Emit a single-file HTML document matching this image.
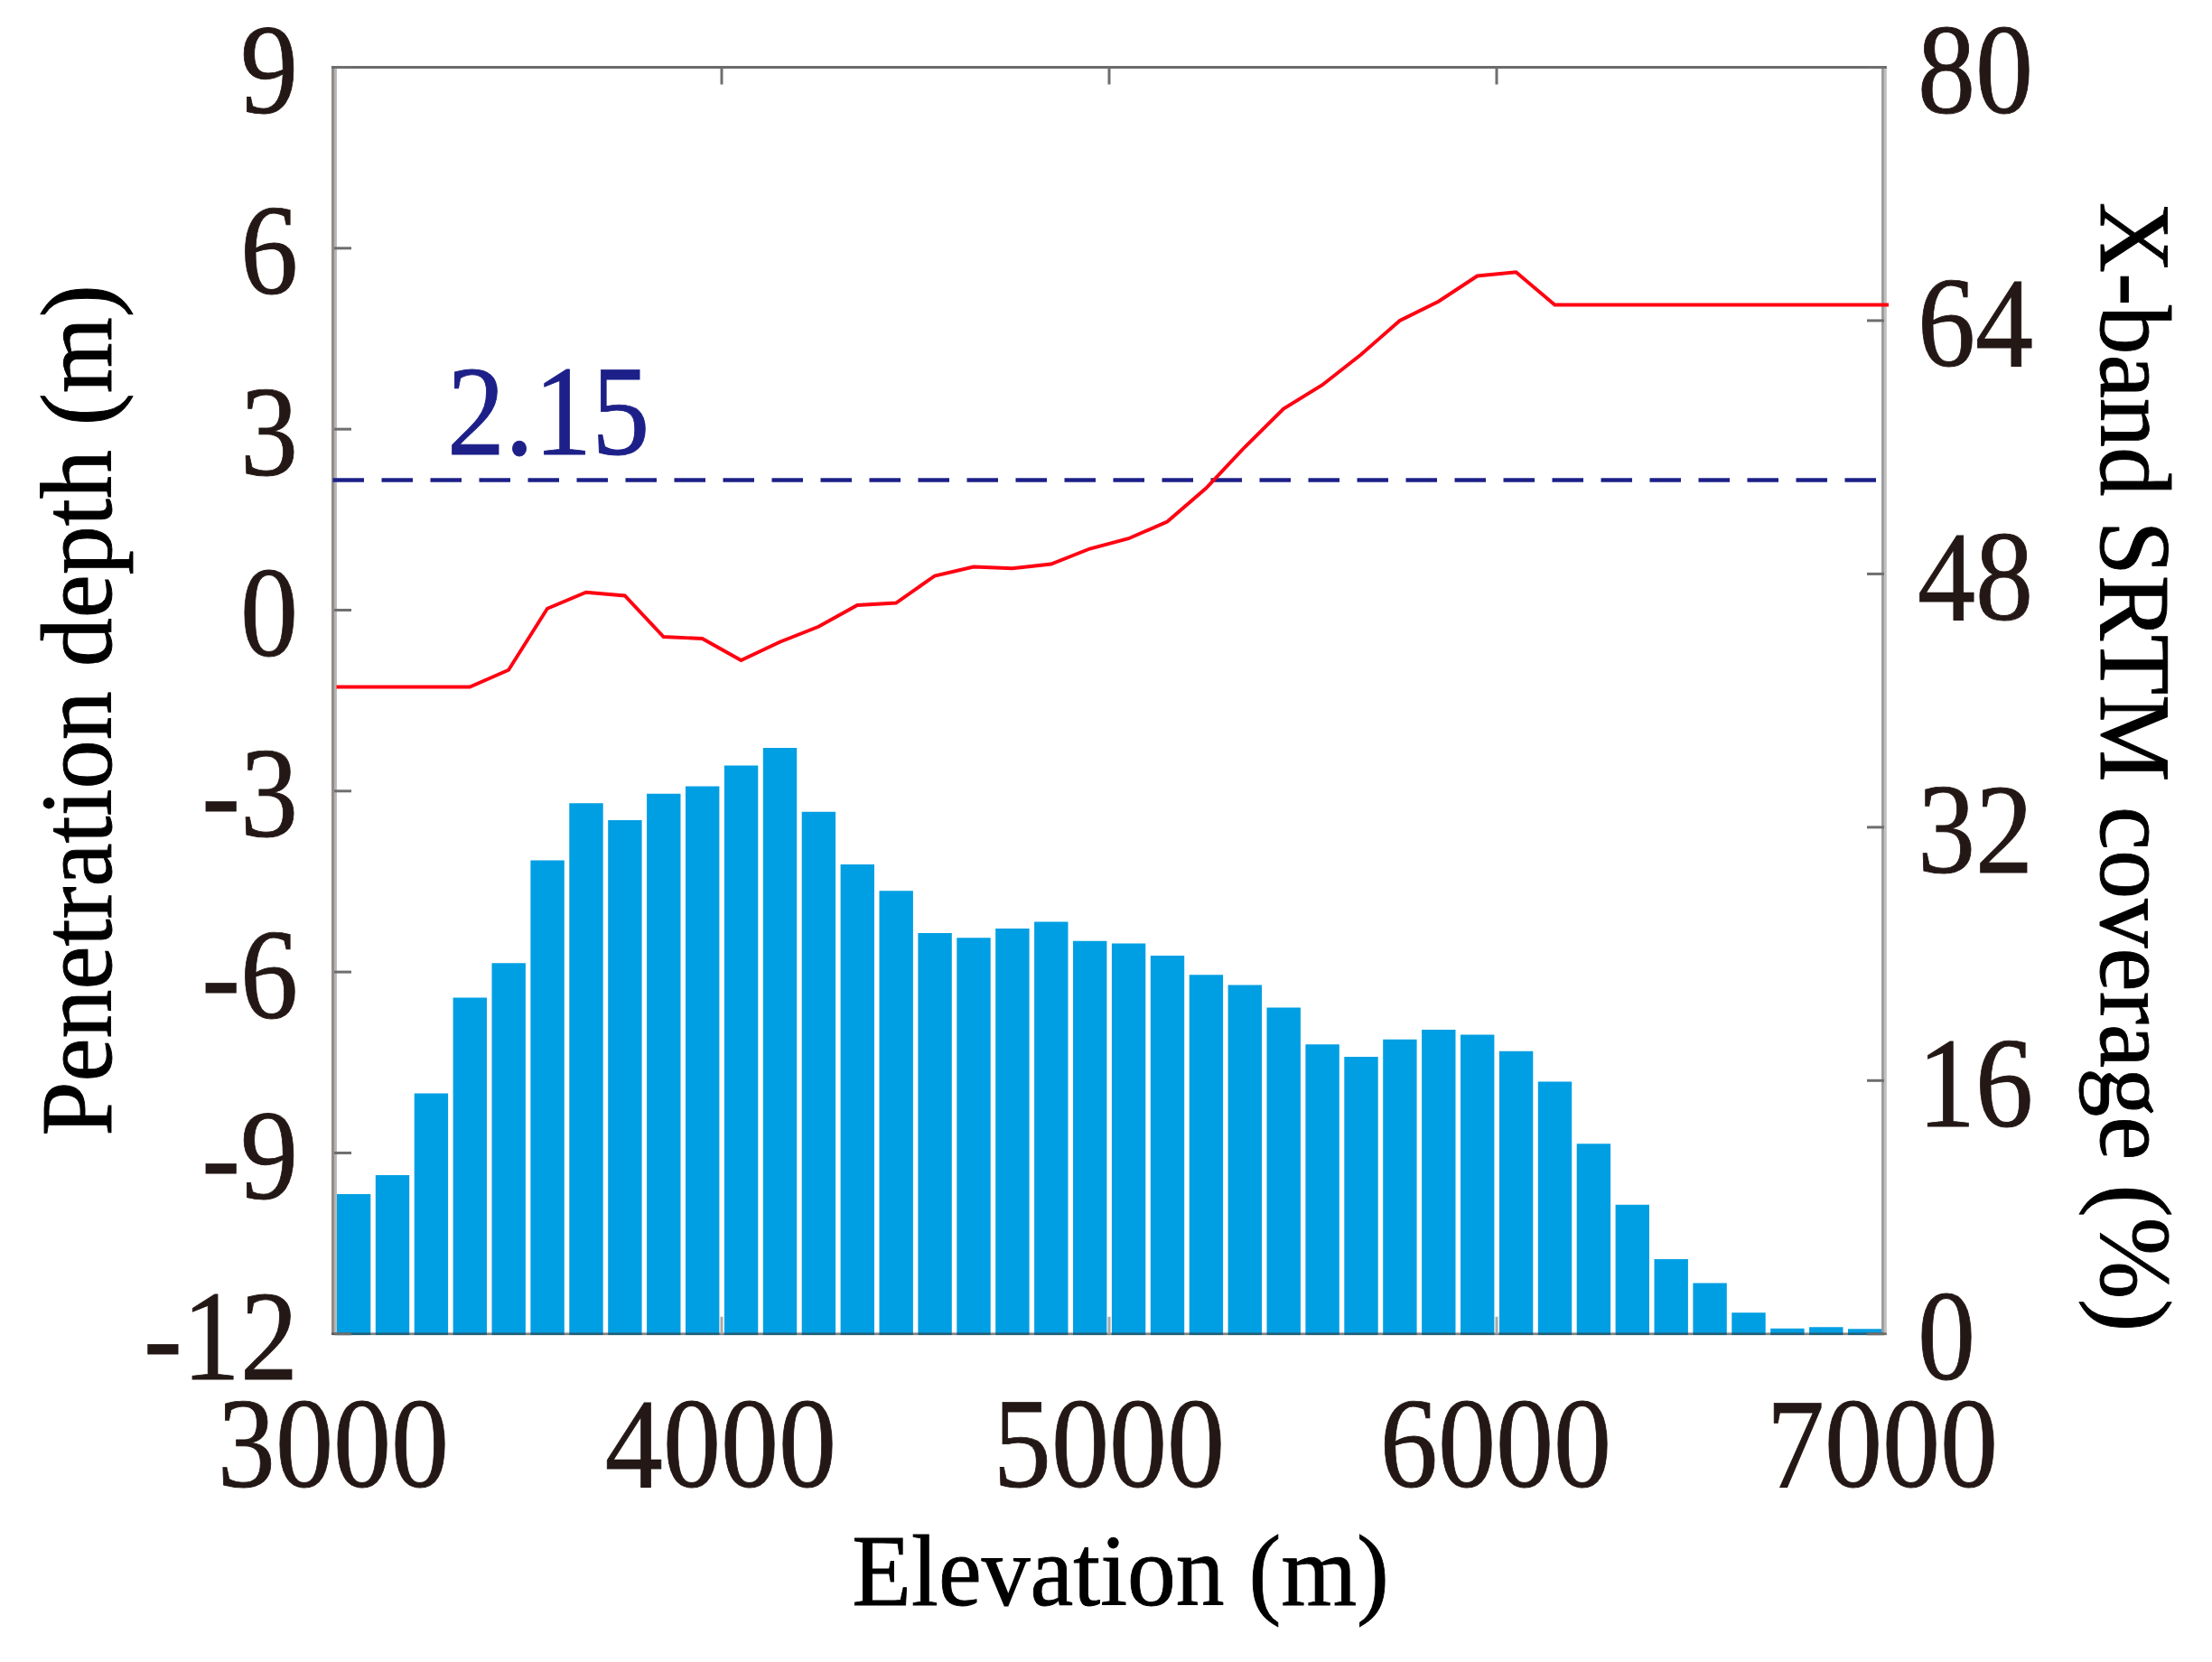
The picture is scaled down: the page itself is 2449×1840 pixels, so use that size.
<!DOCTYPE html>
<html lang="en"><head><meta charset="utf-8"><title>Penetration depth vs elevation</title>
<style>html,body{margin:0;padding:0;background:#fff}body{width:2449px;height:1840px;overflow:hidden}svg{display:block}text{font-family:"Liberation Serif",serif}</style>
</head><body>
<svg width="2449" height="1840" viewBox="0 0 2449 1840">
<rect width="2449" height="1840" fill="#fff"/>
<g fill="#009fe3">
<rect x="372.90" y="1322.00" width="37.40" height="156.05"/>
<rect x="415.80" y="1301.00" width="37.40" height="177.05"/>
<rect x="458.70" y="1210.50" width="37.40" height="267.55"/>
<rect x="501.60" y="1104.50" width="37.40" height="373.55"/>
<rect x="544.50" y="1066.25" width="37.40" height="411.80"/>
<rect x="587.40" y="952.50" width="37.40" height="525.55"/>
<rect x="630.30" y="889.25" width="37.40" height="588.80"/>
<rect x="673.20" y="908.00" width="37.40" height="570.05"/>
<rect x="716.10" y="878.75" width="37.40" height="599.30"/>
<rect x="759.00" y="870.50" width="37.40" height="607.55"/>
<rect x="801.90" y="847.50" width="37.40" height="630.55"/>
<rect x="844.80" y="828.00" width="37.40" height="650.05"/>
<rect x="887.70" y="898.75" width="37.40" height="579.30"/>
<rect x="930.60" y="957.00" width="37.40" height="521.05"/>
<rect x="973.50" y="986.25" width="37.40" height="491.80"/>
<rect x="1016.40" y="1033.00" width="37.40" height="445.05"/>
<rect x="1059.30" y="1038.25" width="37.40" height="439.80"/>
<rect x="1102.20" y="1028.00" width="37.40" height="450.05"/>
<rect x="1145.10" y="1020.50" width="37.40" height="457.55"/>
<rect x="1188.00" y="1041.75" width="37.40" height="436.30"/>
<rect x="1230.90" y="1044.50" width="37.40" height="433.55"/>
<rect x="1273.80" y="1058.00" width="37.40" height="420.05"/>
<rect x="1316.70" y="1079.25" width="37.40" height="398.80"/>
<rect x="1359.60" y="1090.50" width="37.40" height="387.55"/>
<rect x="1402.50" y="1115.50" width="37.40" height="362.55"/>
<rect x="1445.40" y="1156.25" width="37.40" height="321.80"/>
<rect x="1488.30" y="1170.00" width="37.40" height="308.05"/>
<rect x="1531.20" y="1150.75" width="37.40" height="327.30"/>
<rect x="1574.10" y="1140.00" width="37.40" height="338.05"/>
<rect x="1617.00" y="1145.50" width="37.40" height="332.55"/>
<rect x="1659.90" y="1163.75" width="37.40" height="314.30"/>
<rect x="1702.80" y="1197.50" width="37.40" height="280.55"/>
<rect x="1745.70" y="1266.25" width="37.40" height="211.80"/>
<rect x="1788.60" y="1333.75" width="37.40" height="144.30"/>
<rect x="1831.50" y="1394.00" width="37.40" height="84.05"/>
<rect x="1874.40" y="1420.50" width="37.40" height="57.55"/>
<rect x="1917.30" y="1453.25" width="37.40" height="24.80"/>
<rect x="1960.20" y="1470.75" width="37.40" height="7.30"/>
<rect x="2003.10" y="1469.25" width="37.40" height="8.80"/>
<rect x="2046.00" y="1471.25" width="37.40" height="6.80"/>
</g>
<g fill="none">
<rect x="367" y="73" width="3" height="1405" fill="#8f8c8a"/><rect x="370" y="73" width="2.9" height="1405" fill="#b7b5b2"/>
<rect x="2083.1" y="73" width="2.8" height="1405" fill="#979797"/><rect x="2085.9" y="73" width="2.9" height="1405" fill="#c0c0c0"/>
<rect x="367" y="73" width="1721.8" height="3" fill="#6a6a6a"/>
<rect x="367" y="1475.4" width="1721.8" height="2.7" fill="#3a3a3a" fill-opacity="0.62"/>
</g>
<g stroke="#6e6e6e" stroke-width="3">
<line x1="370" y1="74.50" x2="389" y2="74.50"/>
<line x1="370" y1="274.82" x2="389" y2="274.82"/>
<line x1="370" y1="475.14" x2="389" y2="475.14"/>
<line x1="370" y1="675.46" x2="389" y2="675.46"/>
<line x1="370" y1="875.79" x2="389" y2="875.79"/>
<line x1="370" y1="1076.11" x2="389" y2="1076.11"/>
<line x1="370" y1="1276.43" x2="389" y2="1276.43"/>
<line x1="370" y1="1476.75" x2="389" y2="1476.75"/>
<line x1="2067" y1="74.50" x2="2086" y2="74.50"/>
<line x1="2067" y1="354.95" x2="2086" y2="354.95"/>
<line x1="2067" y1="635.40" x2="2086" y2="635.40"/>
<line x1="2067" y1="915.85" x2="2086" y2="915.85"/>
<line x1="2067" y1="1196.30" x2="2086" y2="1196.30"/>
<line x1="2067" y1="1476.75" x2="2086" y2="1476.75"/>
<line x1="799.00" y1="74.5" x2="799.00" y2="93.5"/>
<line x1="799.00" y1="1476.75" x2="799.00" y2="1457.75" stroke="#a9a9a9"/>
<line x1="1228.00" y1="74.5" x2="1228.00" y2="93.5"/>
<line x1="1228.00" y1="1476.75" x2="1228.00" y2="1457.75" stroke="#a9a9a9"/>
<line x1="1657.00" y1="74.5" x2="1657.00" y2="93.5"/>
<line x1="1657.00" y1="1476.75" x2="1657.00" y2="1457.75" stroke="#a9a9a9"/>
</g>
<line x1="368.5" y1="531.6" x2="2086" y2="531.6" stroke="#1d2088" stroke-width="4.5" stroke-dasharray="34.5 19.5"/>
<polyline fill="none" stroke="#ff0012" stroke-width="3.9" stroke-linejoin="miter" points="372.50,760.50 391.45,760.50 434.35,760.50 477.25,760.50 520.15,760.50 563.05,741.75 605.95,673.75 648.85,655.75 691.75,659.50 734.65,705.00 777.55,707.00 820.45,731.00 863.35,710.75 906.25,693.75 949.15,670.00 992.05,667.50 1034.95,637.50 1077.85,627.50 1120.75,629.25 1163.65,624.50 1206.55,607.50 1249.45,596.25 1292.35,577.50 1335.25,540.50 1378.15,495.00 1421.05,452.50 1463.95,426.25 1506.85,392.50 1549.75,355.00 1592.65,333.75 1635.55,305.50 1678.45,301.25 1721.35,337.50 1764.25,337.50 1807.15,337.50 1850.05,337.50 1892.95,337.50 1935.85,337.50 1978.75,337.50 2021.65,337.50 2064.55,337.50 2091.00,337.50"/>
<text transform="translate(330.00 125.00) scale(0.9060 1)" font-size="141.5" text-anchor="end" fill="#231815" stroke="#231815" stroke-width="0.9">9</text>
<text transform="translate(330.00 325.32) scale(0.9060 1)" font-size="141.5" text-anchor="end" fill="#231815" stroke="#231815" stroke-width="0.9">6</text>
<text transform="translate(330.00 525.64) scale(0.9060 1)" font-size="141.5" text-anchor="end" fill="#231815" stroke="#231815" stroke-width="0.9">3</text>
<text transform="translate(330.00 725.96) scale(0.9060 1)" font-size="141.5" text-anchor="end" fill="#231815" stroke="#231815" stroke-width="0.9">0</text>
<text transform="translate(330.00 926.29) scale(0.9060 1)" font-size="141.5" text-anchor="end" fill="#231815" stroke="#231815" stroke-width="0.9">-3</text>
<text transform="translate(330.00 1126.61) scale(0.9060 1)" font-size="141.5" text-anchor="end" fill="#231815" stroke="#231815" stroke-width="0.9">-6</text>
<text transform="translate(330.00 1326.93) scale(0.9060 1)" font-size="141.5" text-anchor="end" fill="#231815" stroke="#231815" stroke-width="0.9">-9</text>
<text transform="translate(330.00 1527.25) scale(0.9060 1)" font-size="141.5" text-anchor="end" fill="#231815" stroke="#231815" stroke-width="0.9">-12</text>
<text transform="translate(2123.00 125.00) scale(0.9060 1)" font-size="141.5" text-anchor="start" fill="#231815" stroke="#231815" stroke-width="0.9">80</text>
<text transform="translate(2123.00 405.45) scale(0.9060 1)" font-size="141.5" text-anchor="start" fill="#231815" stroke="#231815" stroke-width="0.9">64</text>
<text transform="translate(2123.00 685.90) scale(0.9060 1)" font-size="141.5" text-anchor="start" fill="#231815" stroke="#231815" stroke-width="0.9">48</text>
<text transform="translate(2123.00 966.35) scale(0.9060 1)" font-size="141.5" text-anchor="start" fill="#231815" stroke="#231815" stroke-width="0.9">32</text>
<text transform="translate(2123.00 1246.80) scale(0.9060 1)" font-size="141.5" text-anchor="start" fill="#231815" stroke="#231815" stroke-width="0.9">16</text>
<text transform="translate(2123.00 1527.25) scale(0.9060 1)" font-size="141.5" text-anchor="start" fill="#231815" stroke="#231815" stroke-width="0.9">0</text>
<text transform="translate(369.00 1646.00) scale(0.9060 1)" font-size="141.5" text-anchor="middle" fill="#231815" stroke="#231815" stroke-width="0.9">3000</text>
<text transform="translate(798.00 1646.00) scale(0.9060 1)" font-size="141.5" text-anchor="middle" fill="#231815" stroke="#231815" stroke-width="0.9">4000</text>
<text transform="translate(1228.00 1646.00) scale(0.9060 1)" font-size="141.5" text-anchor="middle" fill="#231815" stroke="#231815" stroke-width="0.9">5000</text>
<text transform="translate(1656.00 1646.00) scale(0.9060 1)" font-size="141.5" text-anchor="middle" fill="#231815" stroke="#231815" stroke-width="0.9">6000</text>
<text transform="translate(2084.00 1646.00) scale(0.9060 1)" font-size="141.5" text-anchor="middle" fill="#231815" stroke="#231815" stroke-width="0.9">7000</text>
<text transform="translate(495.00 503.20) scale(0.9060 1)" font-size="141.5" text-anchor="start" fill="#1d2088" stroke="#1d2088" stroke-width="0.9">2.15</text>
<text transform="translate(1240.60 1777.00) scale(0.9610 1)" font-size="112" text-anchor="middle" fill="#000" stroke="#000" stroke-width="0.9">Elevation (m)</text>
<text transform="translate(122.5 1257.50) rotate(-90) scale(0.9650 1)" font-size="112" text-anchor="start" fill="#000" stroke="#000" stroke-width="0.9">Penetration depth (m)</text>
<text transform="translate(2325.7 223.80) rotate(90) scale(0.9694 1)" font-size="112" text-anchor="start" fill="#000" stroke="#000" stroke-width="0.9">X-band SRTM coverage (%)</text>
</svg></body></html>
